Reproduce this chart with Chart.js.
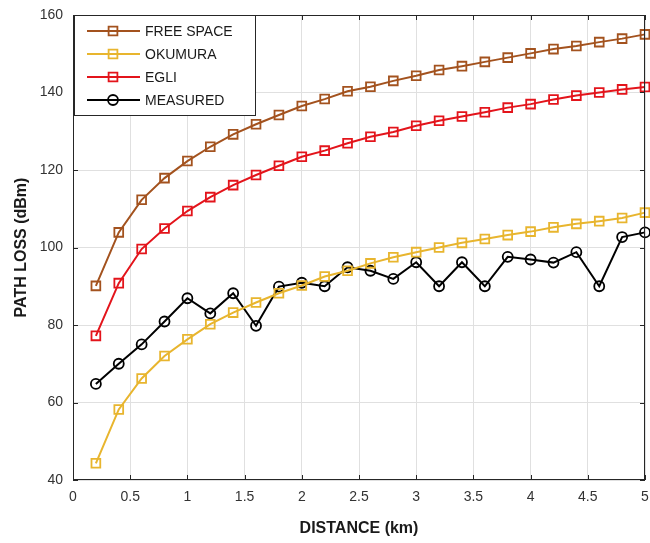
<!DOCTYPE html>
<html>
<head>
<meta charset="utf-8">
<script src="https://cdn.jsdelivr.net/npm/chart.js@4/dist/chart.umd.min.js"></script>
<style>
  body { margin: 0; background: #fff; }
  #wrap { width: 650px; height: 543px; }
</style>
</head>
<body>
<div id="wrap"><canvas id="lossChart"></canvas></div>
<script>
// Distance (km) and path loss readings
const distance = [0.2, 0.4, 0.6, 0.8, 1.0, 1.2, 1.4, 1.6, 1.8, 2.0, 2.2, 2.4, 2.6,
    2.8, 3.0, 3.2, 3.4, 3.6, 3.8, 4.0, 4.2, 4.4, 4.6, 4.8, 5.0];
const freeSpace = [90.1, 103.9, 112.3, 117.9, 122.3, 126, 129.2, 131.8, 134.2, 136.5, 138.3, 140.3, 141.5,
    143, 144.3, 145.8, 146.8, 147.9, 149, 150.1, 151.2, 152, 153, 153.9, 155];
const okumura = [44.3, 58.2, 66.2, 72, 76.3, 80.2, 83.2, 85.8, 88.2, 90.2, 92.5, 94, 95.9,
    97.5, 98.8, 100, 101.2, 102.2, 103.2, 104.1, 105.2, 106.1, 106.8, 107.6, 109];
const egli = [77.2, 90.8, 99.6, 104.9, 109.4, 113, 116.1, 118.7, 121.1, 123.4, 125, 126.9, 128.6,
    129.8, 131.4, 132.7, 133.8, 134.9, 136.1, 137, 138.2, 139.2, 140, 140.8, 141.4];
const measured = [64.8, 70, 75, 80.9, 86.9, 83, 88.2, 79.8, 89.9, 90.9, 90, 94.9, 94,
    91.9, 96.2, 90, 96.2, 90, 97.6, 96.9, 96.1, 98.8, 90, 102.7, 103.9];
const xTicks = [0, 0.5, 1, 1.5, 2, 2.5, 3, 3.5, 4, 4.5, 5];
const yTicks = [40, 60, 80, 100, 120, 140, 160];

const FONT = "'Liberation Sans', Arial, Helvetica, sans-serif";

function toPoints(ys) {
    return distance.map((d, i) => ({ x: d, y: ys[i] }));
}

function makeSet(label, ys, color, style) {
    return {
        label: label,
        data: toPoints(ys),
        borderColor: color,
        backgroundColor: 'rgba(0,0,0,0)',
        borderWidth: 2,
        pointStyle: style,
        pointRadius: style === 'rect' ? 6.2 : 5,
        pointBorderWidth: 1.8,
        pointBorderColor: color,
        pointBackgroundColor: 'rgba(0,0,0,0)',
        tension: 0,
        clip: false
    };
}

// box round the axes, inside ticks, and the legend inside the plot
const boxAndLegend = {
    id: 'boxAndLegend',
    afterDraw(chart) {
        const ctx = chart.ctx;
        const a = chart.chartArea;
        const xs = chart.scales.x, ys = chart.scales.y;
        ctx.save();
        ctx.strokeStyle = '#262626';
        ctx.lineWidth = 1;
        ctx.strokeRect(Math.round(a.left) + 0.5, Math.round(a.top) + 0.5,
            Math.round(a.right - a.left) - 1, Math.round(a.bottom - a.top) - 1);
        ctx.beginPath();
        xTicks.forEach(t => {
            const px = Math.round(xs.getPixelForValue(t)) + 0.5;
            ctx.moveTo(px, a.bottom); ctx.lineTo(px, a.bottom - 5);
            ctx.moveTo(px, a.top); ctx.lineTo(px, a.top + 5);
        });
        yTicks.forEach(t => {
            const py = Math.round(ys.getPixelForValue(t)) + 0.5;
            ctx.moveTo(a.left, py); ctx.lineTo(a.left + 5, py);
            ctx.moveTo(a.right, py); ctx.lineTo(a.right - 5, py);
        });
        ctx.stroke();

        // legend
        const lx = 74.5, ly = 15.5, lw = 181, lh = 100;
        ctx.fillStyle = '#fff';
        ctx.fillRect(lx, ly, lw, lh);
        ctx.strokeStyle = '#262626';
        ctx.strokeRect(lx, ly, lw, lh);
        ctx.font = '14px ' + FONT;
        ctx.textBaseline = 'middle';
        chart.data.datasets.forEach((ds, i) => {
            const y = 31 + i * 23;
            ctx.strokeStyle = ds.borderColor;
            ctx.lineWidth = 2;
            ctx.beginPath();
            ctx.moveTo(87, y); ctx.lineTo(140, y);
            ctx.stroke();
            ctx.lineWidth = 1.8;
            ctx.beginPath();
            if (ds.pointStyle === 'rect') {
                ctx.rect(108.6, y - 4.4, 8.8, 8.8);
            } else {
                ctx.arc(113, y, 5, 0, Math.PI * 2);
            }
            ctx.stroke();
            ctx.fillStyle = '#1a1a1a';
            ctx.fillText(ds.label, 145, y + 1);
        });
        ctx.restore();
    }
};

let chart;

function initChart() {
    const ctx = document.getElementById('lossChart').getContext('2d');
    chart = new Chart(ctx, {
        type: 'line',
        data: {
            datasets: [
                makeSet('FREE SPACE', freeSpace, '#A3521E', 'rect'),
                makeSet('OKUMURA', okumura, '#E8B52E', 'rect'),
                makeSet('EGLI', egli, '#E3141B', 'rect'),
                makeSet('MEASURED', measured, '#000000', 'circle')
            ]
        },
        options: {
            responsive: true,
            maintainAspectRatio: false,
            animation: false,
            layout: { autoPadding: false, padding: { top: 15, right: 5, left: 0, bottom: 0 } },
            plugins: {
                legend: { display: false },
                tooltip: { enabled: false }
            },
            scales: {
                x: {
                    type: 'linear',
                    min: 0,
                    max: 5,
                    afterFit: s => { s.height = 63; s.paddingLeft = 0; s.paddingRight = 0; },
                    afterBuildTicks: s => { s.ticks = xTicks.map(v => ({ value: v })); },
                    ticks: {
                        padding: 9,
                        color: '#333',
                        font: { family: FONT, size: 14 },
                        callback: v => String(v)
                    },
                    grid: { color: '#e0e0e0', drawTicks: false },
                    border: { display: false },
                    title: {
                        display: true,
                        text: 'DISTANCE (km)',
                        color: '#1a1a1a',
                        font: { family: FONT, size: 16, weight: 'bold' },
                        padding: { top: 0, bottom: 5 }
                    }
                },
                y: {
                    min: 40,
                    max: 160,
                    afterFit: s => { s.width = 73; s.paddingTop = 0; s.paddingBottom = 0; },
                    afterBuildTicks: s => { s.ticks = yTicks.map(v => ({ value: v })); },
                    ticks: {
                        padding: 10,
                        color: '#333',
                        font: { family: FONT, size: 14 }
                    },
                    grid: { color: '#e0e0e0', drawTicks: false },
                    border: { display: false },
                    title: {
                        display: true,
                        text: 'PATH LOSS (dBm)',
                        color: '#1a1a1a',
                        font: { family: FONT, size: 16, weight: 'bold' },
                        padding: { top: 12, bottom: 0 }
                    }
                }
            }
        },
        plugins: [boxAndLegend]
    });
}

window.onload = initChart;
</script>
</body>
</html>
